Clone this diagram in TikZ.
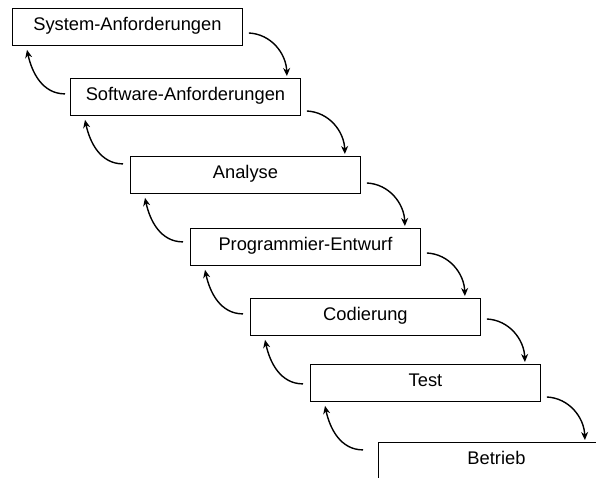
\documentclass[tikz,border=0pt]{standalone}
\usepackage{fontspec}
\setmainfont{Liberation Sans}
\usetikzlibrary{arrows.meta,calc}
\begin{document}
\begin{tikzpicture}[x=1pt,y=1pt,
  phase/.style={draw=black,line width=0.9pt,minimum width=230pt,minimum height=37pt,
    inner sep=0pt,anchor=north west,text height=13pt,text depth=6pt,
    font=\fontsize{18.3}{22}\selectfont},
  arr/.style={line width=1.4pt,-{Stealth[length=8pt,width=7pt]}}]
\useasboundingbox (0,0) rectangle (596,478);
\clip (0,0) rectangle (596,478);
\node[phase] (a) at (12,470) {System-Anforderungen};
\node[phase] (b) at (70,400) {Software-Anforderungen};
\node[phase] (c) at (130,322) {Analyse};
\node[phase] (d) at (190,250) {Programmier-Entwurf};
\node[phase] (e) at (250,180) {Codierung};
\node[phase] (f) at (310,114) {Test};
\node[phase,minimum width=236pt] (g) at (378,36) {Betrieb};
\foreach \u/\l in {a/b,b/c,c/d,d/e,e/f,f/g}{
  \coordinate (t\u) at ($(\u.east |- \l.north)+(44,2)$);
  \coordinate (s\u) at ($(t\u)+(-38,43)$);
  \draw[arr] (s\u) to[out=-3,in=92] (t\u);
  \coordinate (lt\u) at ($(\u.south west)+(15,-4)$);
  \coordinate (ls\u) at ($(lt\u)+(38,-44)$);
  \draw[arr] (ls\u) to[out=180,in=-78] (lt\u);
}
\end{tikzpicture}
\end{document}
